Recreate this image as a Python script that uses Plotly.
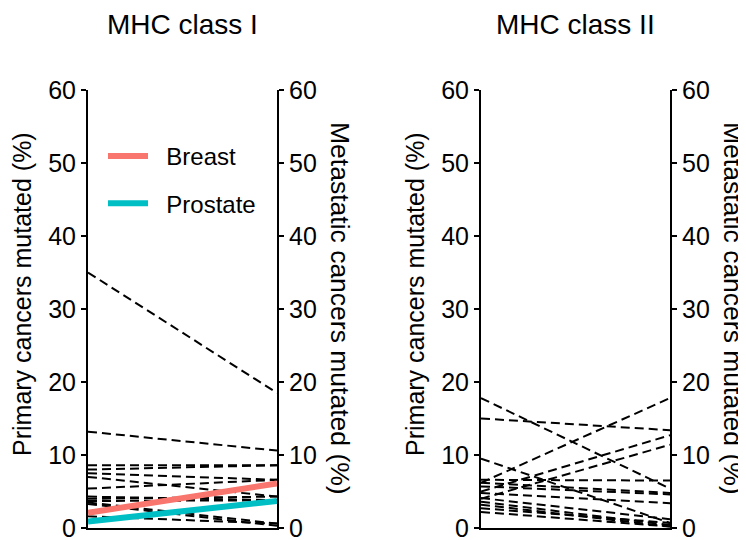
import plotly.graph_objects as go

# The page body adds an 8px margin, so the figure is drawn at (8, 8)
OFF = 8
W, H = 746 - OFF, 540 - OFF

stages = [0, 1]  # 0 = primary, 1 = metastatic
y_ticks = [0, 10, 20, 30, 40, 50, 60]

# MHC class I : per-cancer-type % mutated (primary, metastatic)
mhc1_primary = [35.0, 13.2, 8.6, 8.0, 7.5, 7.0, 5.4, 4.3, 4.0, 3.7, 3.5, 3.3, 1.6]
mhc1_metastatic = [18.5, 10.6, 8.6, 8.6, 6.6, 4.3, 6.6, 3.8, 4.3, 3.8, 0.6, 0.3, 0.6]
mhc1_breast = [2.1, 6.1]
mhc1_prostate = [0.9, 3.7]

# MHC class II
mhc2_primary = [17.8, 15.0, 9.5, 6.2, 5.0, 4.0, 6.6, 6.2, 5.7, 4.8, 4.1, 3.6, 3.2, 2.7, 2.2]
mhc2_metastatic = [5.4, 13.4, 0.7, 17.8, 12.7, 11.4, 6.5, 4.8, 4.6, 3.4, 1.2, 0.4, 0.2, 0.7, 0.2]

titles = ["MHC class I", "MHC class II"]
left_title = "Primary cancers mutated (%)"
right_title = "Metastatic cancers mutated (%)"
legend_names = ["Breast", "Prostate"]

FONT = "Liberation Sans, Arial, sans-serif"
BREAST = "#F8766D"
PROSTATE = "#00BFC4"

# screen-pixel geometry -> paper fractions
panels_px = [(88, 277), (481, 670)]
y0_px, y60_px = 528, 90

def px(x):
    return (x - OFF) / W

def py(y):
    return 1 - (y - OFF) / H

fig = go.Figure()

def add_dashed(p, m, xa, ya):
    for a, b in zip(p, m):
        fig.add_trace(go.Scatter(x=stages, y=[a, b], mode="lines",
                                 line=dict(color="black", width=2, dash="9px,5px"),
                                 xaxis=xa, yaxis=ya, showlegend=False, hoverinfo="skip"))

add_dashed(mhc1_primary, mhc1_metastatic, "x", "y")
fig.add_trace(go.Scatter(x=stages, y=mhc1_breast, mode="lines",
                         name="\u00a0\u00a0" + legend_names[0],
                         line=dict(color=BREAST, width=6), xaxis="x", yaxis="y",
                         legendgroup="b"))
fig.add_trace(go.Scatter(x=stages, y=mhc1_prostate, mode="lines",
                         name="\u00a0\u00a0" + legend_names[1],
                         line=dict(color=PROSTATE, width=6), xaxis="x", yaxis="y",
                         legendgroup="p"))
add_dashed(mhc2_primary, mhc2_metastatic, "x2", "y3")

axis_common = dict(range=[0, 60], tickvals=y_ticks, showline=True, linecolor="black",
                   linewidth=2, ticks="outside", ticklen=5, tickwidth=1.5, tickcolor="black",
                   showgrid=False, zeroline=False, automargin=False,
                   ticklabeloverflow="allow",
                   tickfont=dict(family=FONT, size=25, color="black"))
ydom = [py(y0_px), py(y60_px)]

layout = dict(
    width=W, height=H, margin=dict(l=0, r=0, t=0, b=0),
    paper_bgcolor="white", plot_bgcolor="white",
    showlegend=True,
    legend=dict(x=px(103), y=py(134), xanchor="left", yanchor="top",
                font=dict(family=FONT, size=24, color="black"), itemwidth=40,
                tracegroupgap=13, traceorder="grouped", bgcolor="rgba(0,0,0,0)"),
    xaxis=dict(domain=[px(panels_px[0][0]), px(panels_px[0][1])], range=[0, 1],
               showline=True, linecolor="black", linewidth=2, showticklabels=False,
               ticks="", showgrid=False, zeroline=False, anchor="y", automargin=False),
    xaxis2=dict(domain=[px(panels_px[1][0]), px(panels_px[1][1])], range=[0, 1],
                showline=True, linecolor="black", linewidth=2, showticklabels=False,
                ticks="", showgrid=False, zeroline=False, anchor="y3", automargin=False),
    yaxis=dict(domain=ydom, anchor="x", side="left", **axis_common),
    yaxis2=dict(domain=ydom, anchor="x", side="right", overlaying="y", **axis_common),
    yaxis3=dict(domain=ydom, anchor="x2", side="left", **axis_common),
    yaxis4=dict(domain=ydom, anchor="x2", side="right", overlaying="y3", **axis_common),
)
fig.update_layout(**layout)
# invisible traces so the right-hand axes are drawn
fig.add_trace(go.Scatter(x=[None], y=[None], xaxis="x", yaxis="y2", showlegend=False))
fig.add_trace(go.Scatter(x=[None], y=[None], xaxis="x2", yaxis="y4", showlegend=False))

ann = []
for (l, r), t in zip(panels_px, titles):
    cx = (l + r) / 2
    ann.append(dict(text=t, x=px(cx), y=py(25), xref="paper", yref="paper",
                    xanchor="center", yanchor="middle", showarrow=False,
                    font=dict(family=FONT, size=28, color="black")))
    ann.append(dict(text=left_title, x=px(l - 66), y=py(294),
                    xref="paper", yref="paper", xanchor="center", yanchor="middle",
                    showarrow=False, textangle=-90,
                    font=dict(family=FONT, size=25, color="black")))
    ann.append(dict(text=right_title, x=px(r + 63), y=py(308),
                    xref="paper", yref="paper", xanchor="center", yanchor="middle",
                    showarrow=False, textangle=90,
                    font=dict(family=FONT, size=26.5, color="black")))
fig.update_layout(annotations=ann)

fig.write_html("out.html")
